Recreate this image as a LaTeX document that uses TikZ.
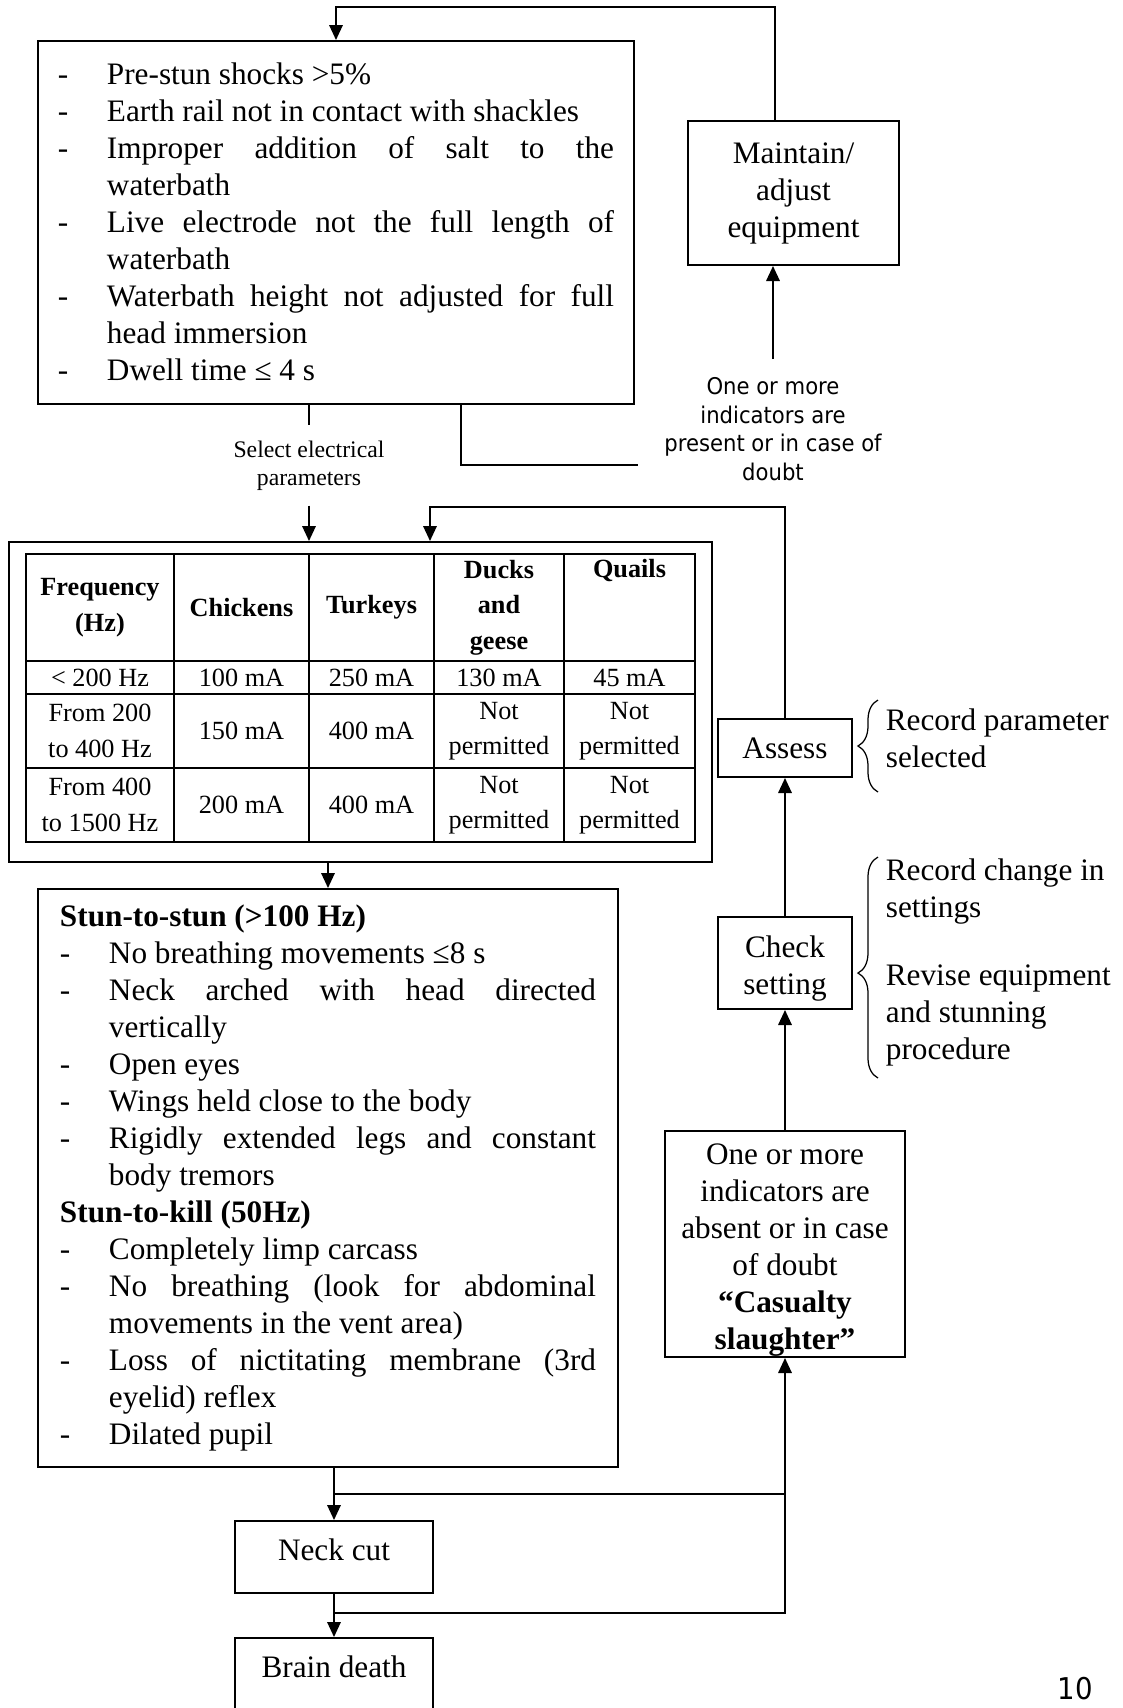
\documentclass[tikz,border=0pt]{standalone}
\usepackage{fontspec}
\setmainfont{Liberation Serif}
\newfontfamily\tahomafont[FakeStretch=0.92]{DejaVu Sans}
\usetikzlibrary{arrows.meta,decorations.pathreplacing}

\newcommand{\bodysize}{\fontsize{12.5}{14.8}\selectfont}
\newcommand{\tablesize}{\fontsize{10.5}{14.2}\selectfont}
\newcommand{\labelsize}{\fontsize{9.5}{11.2}\selectfont}
\newcommand{\dashitem}[1]{\par\noindent\hangindent=19.6pt\hangafter=1\makebox[19.6pt][l]{-}#1}
\hyphenpenalty=10000
\exhyphenpenalty=10000
\tolerance=9999

\begin{document}
\begin{tikzpicture}[
            x = 0.4pt, y = -0.4pt, % one unit is one pixel, y runs down
            > = {Triangle[length=6pt,width=5.4pt]}, % arrow head style
            line width = 0.7pt, % line style
            font = \bodysize,
            box/.style = {draw, line width=0.8pt, align=center, inner sep=0pt},
            listbox/.style = {draw, line width=0.8pt, inner sep=0pt, align=justify},
            cell/.style = {align=center, inner sep=0pt, font=\tablesize},
            headcell/.style = {cell, font=\tablesize\bfseries},
            note/.style = {align=left, inner sep=0pt, anchor=west},
            curly/.style = {decorate, decoration={brace, amplitude=8pt}, line width=0.5pt}
        ]

        \useasboundingbox (0,0) rectangle (1123,1708);
        \clip (0,0) rectangle (1123,1708);

        % left column
        \node (shocks) [listbox, text width=222.4pt, minimum width=238.4pt, minimum height=145.2pt] at (336,222.5) {%
            \vspace*{-7pt}
            \dashitem{Pre-stun shocks >5\%}
            \dashitem{Earth rail not in contact with shackles}
            \dashitem{Improper addition of salt to the\linebreak waterbath}
            \dashitem{Live electrode not the full length of\linebreak waterbath}
            \dashitem{Waterbath height not adjusted for full\linebreak head immersion}
            \dashitem{Dwell time ≤ 4 s}};
        \node (selectlbl) [align=center, inner xsep=0pt, inner ysep=5.8pt, font=\labelsize] at (309,465.5) {Select electrical\\parameters};
        \node (params) [box, minimum width=281.2pt, minimum height=128pt] at (360.5,702) {};
        \node (stun) [listbox, text width=214.4pt, minimum width=232pt, minimum height=231.2pt] at (328,1178) {%
            \noindent\textbf{Stun-to-stun (>100 Hz)}
            \dashitem{No breathing movements ≤8 s}
            \dashitem{Neck arched with head directed\linebreak vertically}
            \dashitem{Open eyes}
            \dashitem{Wings held close to the body}
            \dashitem{Rigidly extended legs and constant\linebreak body tremors}
            \par\noindent\textbf{Stun-to-kill (50Hz)}
            \dashitem{Completely limp carcass}
            \dashitem{No breathing (look for abdominal\linebreak movements in the vent area)}
            \dashitem{Loss of nictitating membrane (3rd\linebreak eyelid) reflex}
            \dashitem{Dilated pupil}};
        \node (neckcut) [box, minimum width=79.2pt, text height=15.6pt, text depth=13.2pt] at (334,1557) {Neck cut};
        \node (braindeath) [box, minimum width=79.2pt, text height=15.6pt, text depth=13.2pt] at (334,1674) {Brain death};

        % table of electrical parameters
        \draw[line width=1pt] (26,554) rectangle (695,842)
            (174,554) -- (174,842) (309,554) -- (309,842)
            (434,554) -- (434,842) (564,554) -- (564,842)
            (26,661) -- (695,661) (26,694) -- (695,694) (26,768) -- (695,768);
        \node (hfreq) [headcell] at (100,607.5) {Frequency\\(Hz)};
        \node (hchick) [headcell] at (241.5,607.5) {Chickens};
        \node (hturk) [headcell] at (371.5,607.5) {Turkeys};
        \node (hduck) [headcell] at (499,607.5) {Ducks\\and\\geese};
        \node (hquail) [headcell] at (629.5,571) {Quails};
        \node (lowfreq) [cell] at (100,677.5) {< 200 Hz};
        \node (lowchick) [cell] at (241.5,677.5) {100 mA};
        \node (lowturk) [cell] at (371.5,677.5) {250 mA};
        \node (lowduck) [cell] at (499,677.5) {130 mA};
        \node (lowquail) [cell] at (629.5,677.5) {45 mA};
        \node (midfreq) [cell] at (100,731) {From 200\\to 400 Hz};
        \node (midchick) [cell] at (241.5,731) {150 mA};
        \node (midturk) [cell] at (371.5,731) {400 mA};
        \node (midduck) [cell] at (499,731) {Not\\permitted};
        \node (midquail) [cell] at (629.5,731) {Not\\permitted};
        \node (highfreq) [cell] at (100,805) {From 400\\to 1500 Hz};
        \node (highchick) [cell] at (241.5,805) {200 mA};
        \node (highturk) [cell] at (371.5,805) {400 mA};
        \node (highduck) [cell] at (499,805) {Not\\permitted};
        \node (highquail) [cell] at (629.5,805) {Not\\permitted};

        % right column
        \node (maintain) [box, minimum width=84.4pt, minimum height=57.6pt] at (793.5,193) {Maintain/\\adjust\\equipment};
        \node (presentlbl) [align=center, inner xsep=0pt, inner ysep=7pt, font=\tahomafont\fontsize{9.2}{11.4}\selectfont] at (773,429) {One or more\\indicators are\\present or in case of\\doubt};
        \node (assess) [box, minimum width=53.6pt, minimum height=23.2pt] at (785,748) {Assess};
        \node (checkset) [box, minimum width=53.6pt, minimum height=36.8pt] at (785,963) {\rule{0pt}{12.8pt}Check\\setting};
        \node (casualty) [box, minimum width=96pt, minimum height=90.4pt] at (785,1244) {\rule{0pt}{13pt}One or more\\indicators are\\absent or in case\\of doubt\\\textbf{“Casualty}\\\textbf{slaughter”}};

        % notes beside the braces
        \draw[curly] (878,792) -- (878,700);
        \draw[curly, decoration={aspect=0.475}] (878,1078) -- (878,857);
        \node (paramnote) [note] at (885,738) {Record parameter\\selected};
        \node (changenote) [note] at (885,891.5) {Record change in\\settings};
        \node (revisenote) [note] at (885,1015) {Revise equipment\\and stunning\\procedure};
        \node (pagenum) [inner sep=0pt, font=\tahomafont\fontsize{12}{14}\selectfont] at (1075,1689) {10};

        % connectors
        \coordinate (maintainturn) at (775,7);
        \coordinate (doubtturn) at (461,465);
        \coordinate (doubtend) at (638,465);
        \coordinate (assessturn) at (430,507);
        \coordinate (cutjoin) at (334,1494);
        \coordinate (deathjoin) at (334,1613);

        \draw[->] (maintain.north -| maintainturn) -- (maintainturn) -| (shocks.north);
        \draw[->] (presentlbl.north) -- (presentlbl.north |- maintain.south);
        \draw (doubtturn |- shocks.south) -- (doubtturn) -- (doubtend);
        \draw (shocks.south -| selectlbl.north) -- (selectlbl.north);
        \draw[->] (selectlbl.south) -- (selectlbl.south |- params.north);
        \draw[->] (assess.north) |- (assessturn) -- (assessturn |- params.north);
        \draw[->] (params.south -| stun.north) -- (stun.north);
        \draw[->] (checkset.north) -- (assess.south);
        \draw[->] (casualty.north) -- (checkset.south);
        \draw[->] (stun.south -| neckcut.north) -- (neckcut.north);
        \draw[->] (neckcut.south) -- (braindeath.north);
        \draw[->] (cutjoin) -| (casualty.south);
        \draw (deathjoin) -| (casualty.south |- cutjoin);
    \end{tikzpicture}
\end{document}
